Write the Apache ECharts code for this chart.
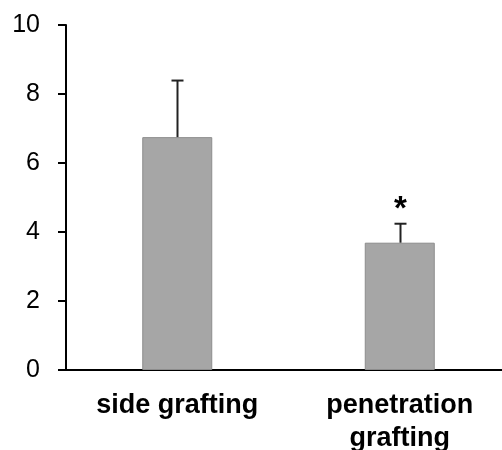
<!DOCTYPE html>
<html><head><meta charset="utf-8">
<script src="https://cdn.jsdelivr.net/npm/echarts@6/dist/echarts.min.js"></script>
<style>html,body{margin:0;padding:0;background:#fff}#c{width:502px;height:450px}</style>
</head><body><div id="c"></div>
<script>
var categories = ['side grafting', 'penetration\ngrafting'];
var means = [6.75, 3.69];
var errors = [1.64, 0.55];
var marks = ['', '*'];
var yTicks = [0, 2, 4, 6, 8, 10];

var chart = echarts.init(document.getElementById('c'));
var errData = means.map(function (m, i) { return [i, m, m + errors[i], marks[i]]; });
chart.setOption({
  animation: false,
  grid: { left: 66, width: 445, top: 25, height: 345, containLabel: false, outerBoundsMode: 'none' },
  xAxis: {
    type: 'category', data: categories,
    axisLine: { lineStyle: { color: '#000', width: 2 } },
    axisTick: { show: false },
    axisLabel: { color: '#000', fontFamily: 'Liberation Sans, Arial', fontWeight: 'bold', fontSize: 27, lineHeight: 33, margin: 19 }
  },
  yAxis: {
    type: 'value', min: 0, max: 10, interval: 2,
    axisLine: { show: true, lineStyle: { color: '#000', width: 2 } },
    axisTick: { show: true, length: 8, lineStyle: { color: '#000', width: 2 } },
    splitLine: { show: false },
    axisLabel: { color: '#000', fontFamily: 'Liberation Sans, Arial', fontSize: 25, margin: 26,
      formatter: function (v) { return yTicks.indexOf(v) >= 0 ? String(v) : ''; } }
  },
  series: [
    { type: 'bar', data: means, barWidth: 70, z: 2,
      itemStyle: { color: '#a6a6a6', borderColor: '#8c8c8c', borderWidth: 1 } },
    { type: 'custom', data: errData, z: 3,
      renderItem: function (params, api) {
        var base = api.coord([api.value(0), api.value(1)]);
        var top = api.coord([api.value(0), api.value(2)]);
        var x = Math.round(base[0]) + 0.5;
        var children = [
          { type: 'line', shape: { x1: x, y1: base[1], x2: x, y2: top[1] }, style: { stroke: '#222', lineWidth: 2 } },
          { type: 'line', shape: { x1: x - 6, y1: top[1], x2: x + 6, y2: top[1] }, style: { stroke: '#222', lineWidth: 2 } }
        ];
        var m = api.value(3);
        if (m) {
          children.push({ type: 'text', x: x, y: top[1] + 3,
            style: { text: m, fill: '#000', font: 'bold 33px Liberation Sans, Arial', align: 'center', verticalAlign: 'bottom' } });
        }
        return { type: 'group', children: children };
      }
    }
  ]
});
</script></body></html>
